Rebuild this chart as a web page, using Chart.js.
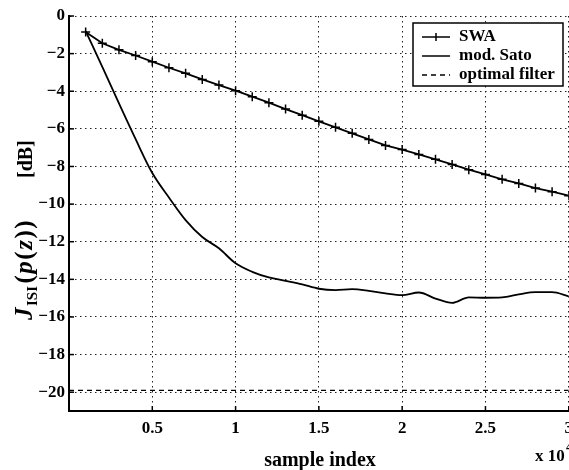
<!DOCTYPE html>
<html><head><meta charset="utf-8">
<script src="https://cdn.jsdelivr.net/npm/chart.js@4/dist/chart.umd.min.js"></script>
<style>
html,body{margin:0;padding:0;background:#fff;overflow:hidden;width:569px;height:470px}
canvas{display:block}
</style></head>
<body><canvas id="c" width="580" height="470"></canvas>
<script>
// sample index (x 10^4)
const xValues = [0.1,0.2,0.3,0.4,0.5,0.6,0.7,0.8,0.9,1.0,1.1,1.2,1.3,1.4,1.5,1.6,1.7,1.8,1.9,2.0,2.1,2.2,2.3,2.4,2.5,2.6,2.7,2.8,2.9,3.0];
const swaValues = [-0.85,-1.45,-1.80,-2.10,-2.43,-2.75,-3.05,-3.37,-3.67,-3.97,-4.29,-4.61,-4.95,-5.27,-5.60,-5.92,-6.24,-6.56,-6.88,-7.10,-7.36,-7.62,-7.89,-8.17,-8.42,-8.68,-8.90,-9.15,-9.34,-9.55];
const satoValues = [-0.8,-2.7,-4.65,-6.55,-8.35,-9.65,-10.85,-11.75,-12.35,-13.15,-13.6,-13.9,-14.08,-14.27,-14.5,-14.57,-14.52,-14.61,-14.75,-14.84,-14.70,-15.02,-15.25,-14.96,-14.98,-14.96,-14.80,-14.68,-14.68,-14.9];
const optimalX = [0, 3];
const optimalValues = [-19.9, -19.9];
const yTicks = [0,-2,-4,-6,-8,-10,-12,-14,-16,-18,-20];
const xTicks = [0.5,1,1.5,2,2.5,3];
const seriesLabels = ['SWA','mod. Sato','optimal filter'];

const SERIF = '"Liberation Serif","Times New Roman",serif';
const pts = (xs, ys) => xs.map((x,i)=>({x, y: ys[i]}));

const deco = {
  id: 'deco',
  afterDraw(chart){
    const {ctx, chartArea:a, scales:{x, y}} = chart;
    ctx.save();
    // inward tick marks
    ctx.strokeStyle = '#000'; ctx.lineWidth = 1.5;
    xTicks.forEach(v => { const px = x.getPixelForValue(v); ctx.beginPath(); ctx.moveTo(px, a.bottom); ctx.lineTo(px, a.bottom-5); ctx.stroke(); });
    yTicks.forEach(v => { const py = y.getPixelForValue(v); ctx.beginPath(); ctx.moveTo(a.left, py); ctx.lineTo(a.left+5, py); ctx.stroke(); });

    // legend box
    const bx = 413, by = 23, bw = 150, bh = 63;
    ctx.fillStyle = '#fff'; ctx.fillRect(bx, by, bw, bh);
    ctx.strokeStyle = '#000'; ctx.lineWidth = 1.5; ctx.strokeRect(bx, by, bw, bh);
    const rows = [37, 56, 75];
    const lx0 = 422, lx1 = 450;
    chart.data.datasets.forEach((ds, i) => {
      const ry = rows[i];
      ctx.lineWidth = 1.5;
      ctx.beginPath();
      ctx.setLineDash(ds.borderDash || []);
      ctx.moveTo(lx0, ry); ctx.lineTo(lx1, ry); ctx.stroke();
      ctx.setLineDash([]);
      if (ds.pointStyle === 'cross') {
        const cx = (lx0+lx1)/2;
        ctx.beginPath(); ctx.moveTo(cx, ry-4); ctx.lineTo(cx, ry+4); ctx.stroke();
      }
      ctx.fillStyle = '#000';
      ctx.font = 'bold 17px ' + SERIF;
      ctx.textAlign = 'left'; ctx.textBaseline = 'middle';
      ctx.fillText(ds.label, 459, ry);
    });

    // x title
    ctx.fillStyle = '#000';
    ctx.font = 'bold 20px ' + SERIF;
    ctx.textAlign = 'center'; ctx.textBaseline = 'alphabetic';
    ctx.fillText('sample index', 320, 466);
    // x 10^4
    ctx.textAlign = 'left';
    ctx.font = 'bold 17px ' + SERIF;
    ctx.fillText('x 10', 535, 461);
    ctx.font = 'bold 12px ' + SERIF;
    ctx.fillText('4', 566, 451);

    // y title (rotated)
    ctx.translate(32, 320);
    ctx.rotate(-Math.PI/2);
    ctx.textAlign = 'left'; ctx.textBaseline = 'alphabetic';
    let cx = 0;
    const sp = 1.5;
    const seg = (t, font, dy) => { ctx.font = font; ctx.fillText(t, cx, dy || 0); cx += ctx.measureText(t).width + sp; };
    seg('J', 'italic bold 25px ' + SERIF);
    seg('ISI', 'bold 15px ' + SERIF, 5);
    cx += 1;
    seg('(', 'bold 25px ' + SERIF);
    seg('p', 'italic bold 25px ' + SERIF);
    seg('(', 'bold 25px ' + SERIF);
    seg('z', 'italic bold 25px ' + SERIF);
    seg(')', 'bold 25px ' + SERIF);
    seg(')', 'bold 25px ' + SERIF);
    cx = 142;
    seg('[dB]', 'bold 20px ' + SERIF);
    ctx.restore();
  }
};

const bg = {
  id: 'bg',
  beforeDraw(chart){ const c = chart.ctx; c.save(); c.fillStyle = '#fff'; c.fillRect(0,0,chart.width,chart.height); c.restore(); }
};

new Chart(document.getElementById('c'), {
  type: 'line',
  data: {
    datasets: [
      { label: seriesLabels[0], data: pts(xValues, swaValues), borderColor: '#000', backgroundColor: '#000',
        borderWidth: 1.8, pointStyle: 'cross', pointRadius: 4.5, pointBorderWidth: 1.5, pointBorderColor: '#000', tension: 0 },
      { label: seriesLabels[1], data: pts(xValues, satoValues), borderColor: '#000', borderWidth: 1.8, pointRadius: 0,
        cubicInterpolationMode: 'monotone' },
      { label: seriesLabels[2], data: pts(optimalX, optimalValues), borderColor: '#000', borderWidth: 1.2, borderDash: [5,4], pointRadius: 0 }
    ]
  },
  options: {
    responsive: false, animation: false,
    layout: { padding: { top: 16, right: 8, left: 0, bottom: 0 } },
    plugins: { legend: { display: false }, tooltip: { enabled: false } },
    scales: {
      x: {
        type: 'linear', min: 0, max: 3,
        afterBuildTicks: s => { s.ticks = xTicks.map(v => ({value: v})); },
        afterFit: s => { s.height = 59; },
        ticks: { padding: 7, color: '#000', maxRotation: 0, font: { family: SERIF, size: 17, weight: 'bold' },
                 callback: v => String(v) },
        grid: { drawTicks: false, color: '#222', lineWidth: 1 },
        border: { display: true, color: '#000', width: 2, dash: [1.5,3.5] }
      },
      y: {
        type: 'linear', min: -21, max: 0,
        afterBuildTicks: s => { s.ticks = yTicks.map(v => ({value: v})); },
        afterFit: s => { s.width = 69; },
        ticks: { padding: 4, color: '#000', font: { family: SERIF, size: 17, weight: 'bold' },
                 callback: v => (v < 0 ? '\u2212' + Math.abs(v) : String(v)) },
        grid: { drawTicks: false, color: '#222', lineWidth: 1 },
        border: { display: true, color: '#000', width: 2, dash: [1.5,3.5] }
      }
    }
  },
  plugins: [bg, deco]
});
</script>
</body></html>
